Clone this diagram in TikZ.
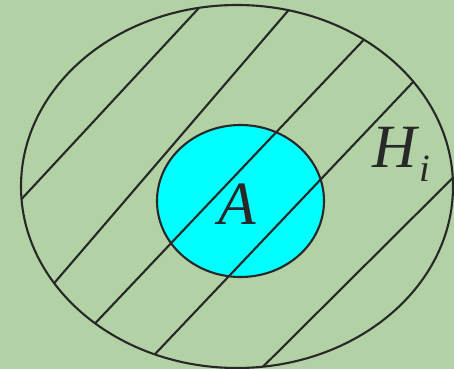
\documentclass[tikz,border=0pt]{standalone}
\usepackage{fontspec}
\setmainfont{Liberation Serif}
\usetikzlibrary{positioning}
\definecolor{bg}{RGB}{178,210,166}
\definecolor{ink}{RGB}{40,40,40}
\definecolor{aqua}{RGB}{0,255,255}

\begin{document}
\begin{tikzpicture}[x=0.02cm, y=-0.02cm]
    % 背景
    \fill[bg] (0,0) rectangle (454,369);
    \useasboundingbox (0,0) rectangle (454,369);

    % 事象 A（塗りつぶし）
    \fill[aqua] (240.5,201) ellipse [x radius=83.5, y radius=76];

    % 斜線（全体の楕円でクリップ）
    \begin{scope}
        \clip (237,186.5) ellipse [x radius=216, y radius=181.5];
        \draw[ink, line width=1.2pt] (2.6,219.5) -- (219.8,-14.5);
        \draw[ink, line width=1.2pt] (27.6,314.1) -- (317.4,-23.4);
        \draw[ink, line width=1.2pt] (69.5,350.4) -- (395.5,6.3);
        \draw[ink, line width=1.2pt] (130.9,379.5) -- (440.8,52.8);
        \draw[ink, line width=1.2pt] (243.9,385.7) -- (473.1,157.7);
    \end{scope}

    % 輪郭
    \draw[ink, line width=1.2pt] (240.5,201) ellipse [x radius=83.5, y radius=76];
    \draw[ink, line width=1.2pt] (237,186.5) ellipse [x radius=216, y radius=181.5];

    % ラベル
    \node[ink, anchor=base, inner sep=0pt] (A) at (237.5,224)
        {\fontsize{35}{40}\selectfont\textit{A}};
    \node[ink, anchor=base west, inner sep=0pt] (Hi) at (372,167)
        {\fontsize{35}{40}\selectfont\textit{H}\raisebox{-8.5pt}{\fontsize{22}{24}\selectfont\textit{i}}};
\end{tikzpicture}
\end{document}
